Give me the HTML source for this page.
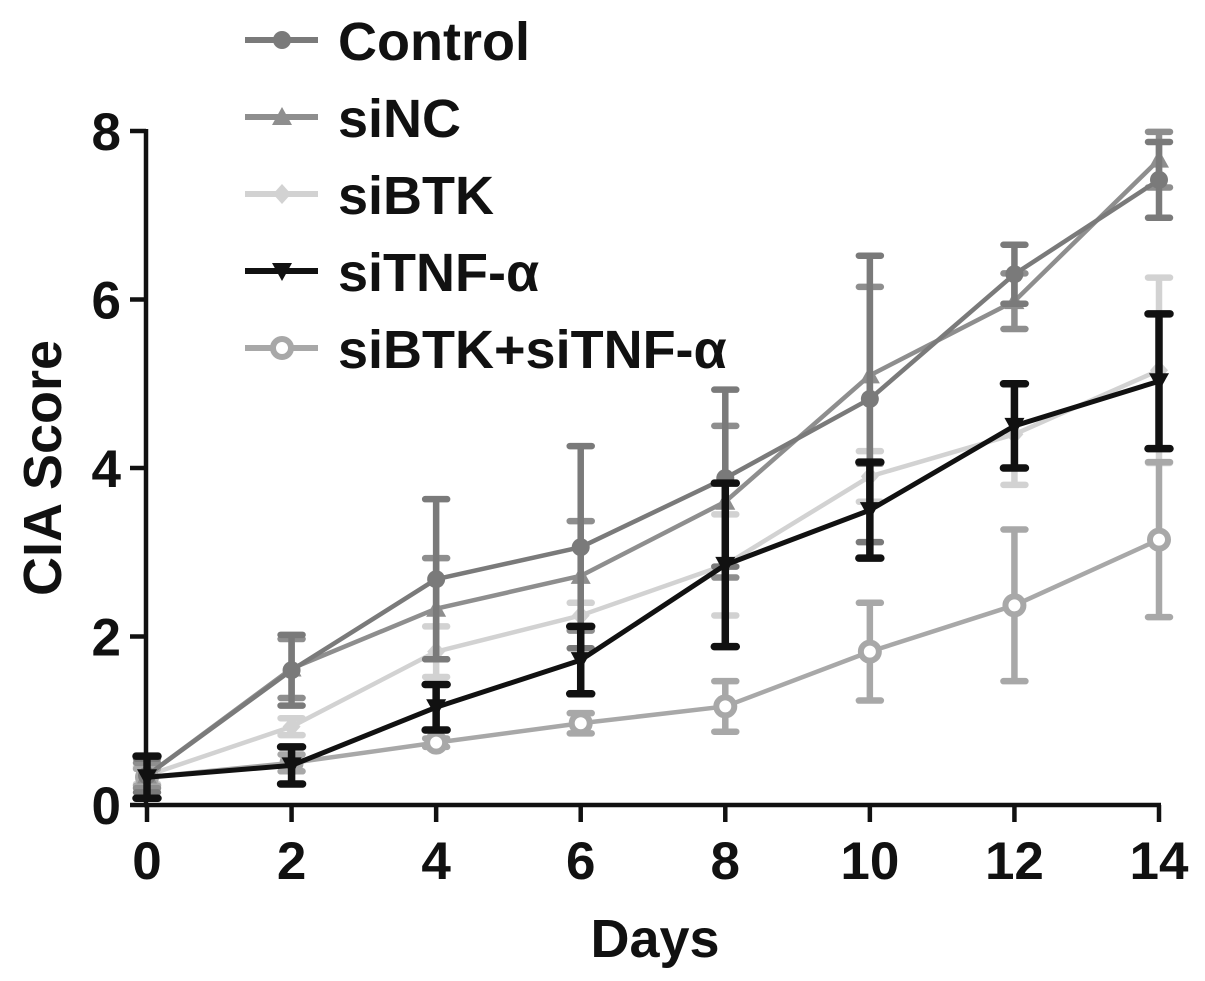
<!DOCTYPE html>
<html><head><meta charset="utf-8"><style>
html,body{margin:0;padding:0;background:#fff;}
svg{display:block;font-family:"Liberation Sans",sans-serif;font-weight:bold;}
</style></head><body>
<svg id="chart" width="1205" height="981" viewBox="0 0 1205 981">
<g id="axes"></g><g id="series"></g><g id="legend"></g>
</svg>
<script>
const days = [0, 2, 4, 6, 8, 10, 12, 14];
const yTicks = [0, 2, 4, 6, 8];
const seriesNames = ["Control", "siNC", "siBTK", "siTNF-α", "siBTK+siTNF-α"];
const controlVals = [0.35, 1.6, 2.68, 3.06, 3.88, 4.82, 6.3, 7.42];
const controlErr = [0.2, 0.42, 0.95, 1.2, 1.05, 1.7, 0.35, 0.45];
const sincVals = [0.35, 1.62, 2.33, 2.72, 3.6, 5.1, 5.98, 7.66];
const sincErr = [0.15, 0.35, 0.6, 0.65, 0.9, 1.05, 0.33, 0.33];
const sibtkVals = [0.35, 0.93, 1.82, 2.25, 2.85, 3.9, 4.4, 5.16];
const sibtkErr = [0.1, 0.1, 0.3, 0.15, 0.6, 0.3, 0.6, 1.1];
const sitnfVals = [0.33, 0.47, 1.16, 1.72, 2.85, 3.5, 4.5, 5.03];
const sitnfErr = [0.25, 0.22, 0.27, 0.4, 0.97, 0.57, 0.5, 0.8];
const comboVals = [0.33, 0.5, 0.74, 0.97, 1.17, 1.82, 2.37, 3.15];
const comboErr = [0.1, 0.1, 0.05, 0.12, 0.3, 0.58, 0.9, 0.92];

const NS = "http://www.w3.org/2000/svg";
const X = d => 147 + d * (1159 - 147) / 14;
const Y = v => 805 - v * (805 - 131) / 8;
function mk(parent, tag, attrs, text) {
  const e = document.createElementNS(NS, tag);
  for (const k in attrs) e.setAttribute(k, attrs[k]);
  if (text !== undefined) e.textContent = text;
  parent.appendChild(e);
  return e;
}
const axes = document.getElementById('axes');
let yl = mk(axes, 'line', {x1: 146, y1: Y(8) - 2, x2: 146, y2: 807, stroke: '#111', 'stroke-width': 4.5});


let xl = mk(axes, 'line', {x1: 144, y1: 805, x2: 1161, y2: 805, stroke: '#111', 'stroke-width': 4.5});


yTicks.forEach(t => {
  mk(axes, 'line', {x1: 130, y1: Y(t), x2: 146, y2: Y(t), stroke: '#111', 'stroke-width': 4.5});
  const tl = mk(axes, 'text', {x: 121, y: Y(t) + 19, 'text-anchor': 'end', 'font-size': 53, fill: '#111'}, String(t));
  
  
});
days.forEach(d => {
  mk(axes, 'line', {x1: X(d), y1: 805, x2: X(d), y2: 822, stroke: '#111', 'stroke-width': 4.5});
  const tl = mk(axes, 'text', {x: X(d), y: 879, 'text-anchor': 'middle', 'font-size': 53, fill: '#111'}, String(d));
  
  
});
let xt = mk(axes, 'text', {x: 655, y: 957, 'text-anchor': 'middle', 'font-size': 54, fill: '#111'}, 'Days');


let ytt = mk(axes, 'text', {x: 0, y: 0, 'text-anchor': 'middle', 'font-size': 54, fill: '#111', transform: 'translate(61,468) rotate(-90)'}, 'CIA Score');



const colors = ['#7a7a7a', '#8e8e8e', '#d2d2d2', '#111111', '#a8a8a8'];
const markers = ['circle', 'tri', 'diamond', 'tridown', 'ring'];
const allVals = [controlVals, sincVals, sibtkVals, sitnfVals, comboVals];
const allErr = [controlErr, sincErr, sibtkErr, sitnfErr, comboErr];
function marker(g, type, x, y, c) {
  if (type === 'circle') mk(g, 'circle', {cx: x, cy: y, r: 9, fill: c});
  else if (type === 'tri') mk(g, 'polygon', {points: `${x},${y-10} ${x-10},${y+8} ${x+10},${y+8}`, fill: c});
  else if (type === 'diamond') mk(g, 'polygon', {points: `${x},${y-10} ${x-9},${y} ${x},${y+10} ${x+9},${y}`, fill: c});
  else if (type === 'tridown') mk(g, 'polygon', {points: `${x},${y+10} ${x-10},${y-8} ${x+10},${y-8}`, fill: c});
  else mk(g, 'circle', {cx: x, cy: y, r: 9, fill: '#fff', stroke: c, 'stroke-width': 6});
}
const sg = document.getElementById('series');
const order = [2, 4, 1, 0, 3];
order.forEach(i => {
  const g = mk(sg, 'g', {});
  
  
  const c = colors[i], w = i === 3 ? 5 : 4.5;
  days.forEach((d, j) => {
    const x = X(d), hi = Y(allVals[i][j] + allErr[i][j]), lo = Y(allVals[i][j] - allErr[i][j]);
    const eb = mk(g, 'path', {d: `M${x},${hi}V${lo}M${x-11},${hi}H${x+11}M${x-11},${lo}H${x+11}`, stroke: c, 'stroke-width': i === 3 ? 7.5 : 6.5, fill: 'none', 'stroke-linecap': 'round'});
    
    
  });
  const pts = days.map((d, j) => X(d) + ',' + Y(allVals[i][j])).join(' ');
  const pl = mk(g, 'polyline', {points: pts, stroke: c, 'stroke-width': w, fill: 'none', 'stroke-linejoin': 'round'});
  
  
  days.forEach((d, j) => marker(g, markers[i], X(d), Y(allVals[i][j]), c));
});

const lg = document.getElementById('legend');
const legY = [40, 117, 194, 271, 348];
seriesNames.forEach((n, i) => {
  const g = mk(lg, 'g', {});
  
  
  mk(g, 'line', {x1: 245, y1: legY[i], x2: 318, y2: legY[i], stroke: colors[i], 'stroke-width': 6});
  marker(g, markers[i], 282, legY[i], colors[i]);
  mk(g, 'text', {x: 338, y: legY[i] + 20, 'font-size': 54, fill: '#111'}, n);
});
</script>
</body></html>
